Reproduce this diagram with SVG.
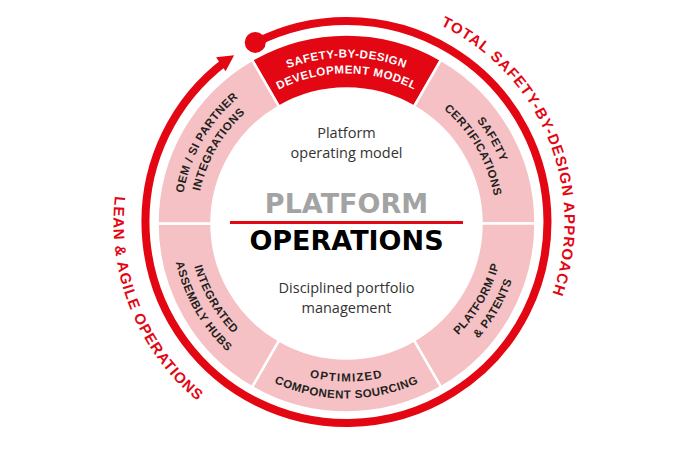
<svg xmlns="http://www.w3.org/2000/svg" width="691" height="450" viewBox="0 0 691 450">
<style>
.seg{fill:#F5C1C4;stroke:#fff;stroke-width:2.5}
.hot{fill:#E30613}
.lbl{font-family:"Liberation Sans",Arial,sans-serif;font-weight:700;font-size:11.5px;letter-spacing:0.5px;fill:#231F20}
.lblw{fill:#fff}
.outer{font-family:"Liberation Sans",Arial,sans-serif;font-weight:700;font-size:15px;letter-spacing:1px;fill:#E30613}
.body{font-family:"Open Sans","Liberation Sans",sans-serif;font-size:14.5px;fill:#333;text-anchor:middle}
.title{font-family:"DejaVu Sans",sans-serif;font-weight:700;font-size:27px;text-anchor:middle}
</style>
<defs>
<path id="pTop1" d="M219.34,116.80 A166,166 0 0 1 473.66,116.80"/>
<path id="pTop2" d="M231.59,127.08 A150,150 0 0 1 461.41,127.08"/>
<path id="pTR1" d="M375.33,60.02 A166,166 0 0 1 502.49,280.28"/>
<path id="pTR2" d="M372.55,75.78 A150,150 0 0 1 487.45,274.80"/>
<path id="pTL1" d="M190.51,280.28 A166,166 0 0 1 317.67,60.02"/>
<path id="pTL2" d="M205.55,274.80 A150,150 0 0 1 320.45,75.78"/>
<path id="pB1" d="M225.47,325.06 A158,158 0 0 0 467.54,325.06"/>
<path id="pB2" d="M212.44,335.99 A175,175 0 0 0 480.56,335.99"/>
<path id="pBR1" d="M373.94,379.10 A158,158 0 0 0 494.97,169.46"/>
<path id="pBR2" d="M376.89,395.84 A175,175 0 0 0 510.95,163.65"/>
<path id="pBL1" d="M198.03,169.46 A158,158 0 0 0 319.06,379.10"/>
<path id="pBL2" d="M182.05,163.65 A175,175 0 0 0 316.11,395.84"/>
<path id="pRight" d="M365.50,4.83 A218,218 0 0 1 513.50,362.13"/>
<path id="pLeft" d="M162.89,78.55 A233,233 0 0 0 314.07,452.73"/>
</defs>

<g id="connectors">
<path d="M255.25,42.91 A201,201 0 1 1 225.54,61.47" fill="none" stroke="#E30613" stroke-width="8"/>
<circle cx="255.25" cy="42.4" r="10.5" fill="#E30613"/>
<polygon points="234.10,55.36 225.59,71.36 216.09,57.26" fill="#E30613"/>
</g>

<g id="approach-total">
<text class="outer" text-anchor="middle"><textPath href="#pRight" startOffset="50%">TOTAL SAFETY-BY-DESIGN APPROACH</textPath></text>
</g>
<g id="approach-lean">
<text class="outer" text-anchor="middle"><textPath href="#pLeft" startOffset="50%">LEAN &amp; AGILE OPERATIONS</textPath></text>
</g>

<g id="seg-safety-design">
<path class="seg hot" d="M252,59.82 A189,189 0 0 1 441,59.82 L414,106.59 A135,135 0 0 0 279,106.59 Z"/>
<text class="lbl lblw" text-anchor="middle"><textPath href="#pTop1" startOffset="50%">SAFETY-BY-DESIGN</textPath></text>
<text class="lbl lblw" text-anchor="middle"><textPath href="#pTop2" startOffset="50%">DEVELOPMENT MODEL</textPath></text>
</g>
<g id="seg-certifications">
<path class="seg" d="M441,59.82 A189,189 0 0 1 535.5,223.5 L481.5,223.5 A135,135 0 0 0 414,106.59 Z"/>
<text class="lbl" text-anchor="middle"><textPath href="#pTR1" startOffset="50%">SAFETY</textPath></text>
<text class="lbl" text-anchor="middle"><textPath href="#pTR2" startOffset="50%">CERTIFICATIONS</textPath></text>
</g>
<g id="seg-ip">
<path class="seg" d="M535.5,223.5 A189,189 0 0 1 441,387.18 L414,340.41 A135,135 0 0 0 481.5,223.5 Z"/>
<text class="lbl" text-anchor="middle"><textPath href="#pBR1" startOffset="50%">PLATFORM IP</textPath></text>
<text class="lbl" text-anchor="middle"><textPath href="#pBR2" startOffset="50%">&amp; PATENTS</textPath></text>
</g>
<g id="seg-sourcing">
<path class="seg" d="M441,387.18 A189,189 0 0 1 252,387.18 L279,340.41 A135,135 0 0 0 414,340.41 Z"/>
<text class="lbl" text-anchor="middle" style="letter-spacing:1.3px"><textPath href="#pB1" startOffset="50%">OPTIMIZED</textPath></text>
<text class="lbl" text-anchor="middle"><textPath href="#pB2" startOffset="50%">COMPONENT SOURCING</textPath></text>
</g>
<g id="seg-assembly">
<path class="seg" d="M252,387.18 A189,189 0 0 1 157.5,223.5 L211.5,223.5 A135,135 0 0 0 279,340.41 Z"/>
<text class="lbl" text-anchor="middle"><textPath href="#pBL1" startOffset="50%">INTEGRATED</textPath></text>
<text class="lbl" text-anchor="middle"><textPath href="#pBL2" startOffset="50%">ASSEMBLY HUBS</textPath></text>
</g>
<g id="seg-partners">
<path class="seg" d="M157.5,223.5 A189,189 0 0 1 252,59.82 L279,106.59 A135,135 0 0 0 211.5,223.5 Z"/>
<text class="lbl" text-anchor="middle"><textPath href="#pTL1" startOffset="50%">OEM / SI PARTNER</textPath></text>
<text class="lbl" text-anchor="middle"><textPath href="#pTL2" startOffset="50%">INTEGRATIONS</textPath></text>
</g>

<g id="center">
<text class="body" x="346.5" y="138">Platform</text>
<text class="body" x="346.5" y="157.5">operating model</text>
<text class="title" x="346.5" y="213" fill="#A3A3A3">PLATFORM</text>
<line x1="230" y1="222.5" x2="463" y2="222.5" stroke="#E30613" stroke-width="3"/>
<text class="title" x="346.5" y="250" fill="#000">OPERATIONS</text>
<text class="body" x="346.5" y="293">Disciplined portfolio</text>
<text class="body" x="346.5" y="312.5">management</text>
</g>
</svg>
